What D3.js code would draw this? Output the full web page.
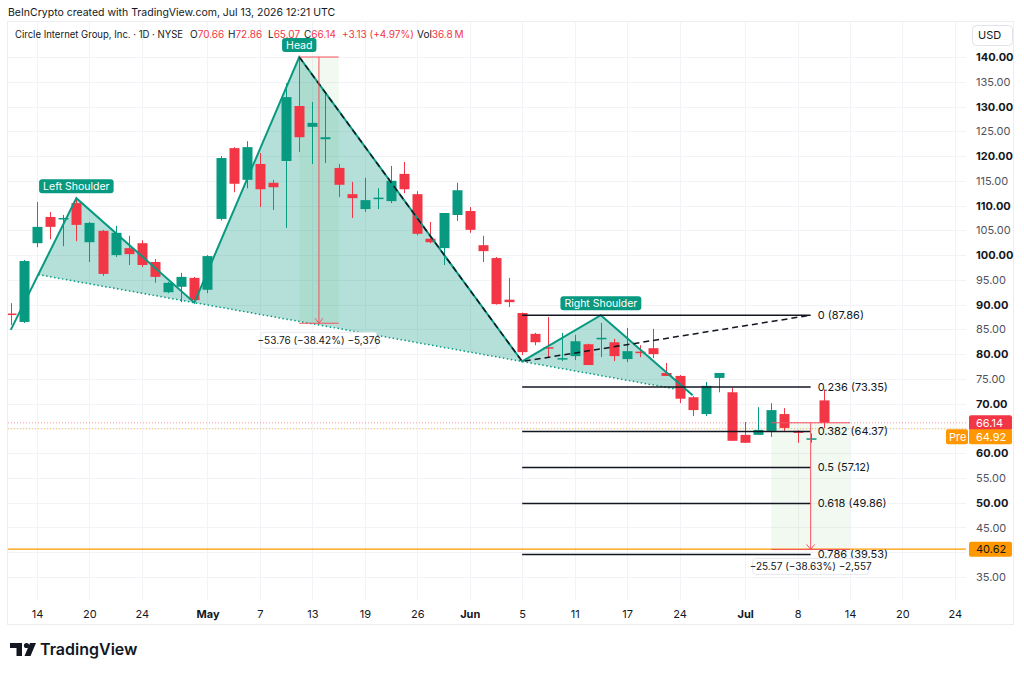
<!DOCTYPE html>
<html>
<head>
<meta charset="utf-8">
<script src="https://cdn.jsdelivr.net/npm/d3@7"></script>
<style>
body { margin: 0; background: #fff; }
svg text { font-family: Inter, "Noto Sans", sans-serif; }
</style>
</head>
<body>
<div id="chart"></div>
<script>
// daily candles
var dates = ["2026-04-10","2026-04-13","2026-04-14","2026-04-15","2026-04-16","2026-04-17","2026-04-20","2026-04-21","2026-04-22","2026-04-23","2026-04-24","2026-04-27","2026-04-28","2026-04-29","2026-04-30","2026-05-01","2026-05-04","2026-05-05","2026-05-06","2026-05-07","2026-05-08","2026-05-11","2026-05-12","2026-05-13","2026-05-14","2026-05-15","2026-05-18","2026-05-19","2026-05-20","2026-05-21","2026-05-22","2026-05-26","2026-05-27","2026-05-28","2026-05-29","2026-06-01","2026-06-02","2026-06-03","2026-06-04","2026-06-05","2026-06-08","2026-06-09","2026-06-10","2026-06-11","2026-06-12","2026-06-15","2026-06-16","2026-06-17","2026-06-18","2026-06-22","2026-06-23","2026-06-24","2026-06-25","2026-06-26","2026-06-29","2026-06-30","2026-07-01","2026-07-02","2026-07-06","2026-07-07","2026-07-08","2026-07-09","2026-07-10"];
var opens  = [88.2,86.5,102.4,107.7,107.2,110.5,102.6,104.9,100.0,101.4,102.4,98.6,92.5,93.6,95.4,93.0,107.3,121.6,115.2,118.4,114.6,119.0,130.1,125.9,123.4,117.6,112.3,109.3,111.3,110.9,116.4,112.3,103.3,101.4,108.1,108.9,102.0,99.4,91.0,88.3,84.1,81.4,79.0,79.6,82.0,83.0,82.4,79.0,80.5,81.2,76.2,75.6,71.3,67.9,75.2,72.3,63.7,63.7,64.5,67.9,64.5,62.9,70.66];
var highs  = [90.3,99.0,110.7,108.7,108.1,111.5,106.7,105.1,105.9,103.9,103.0,99.2,94.6,96.4,95.6,100.0,120.0,121.8,123.0,120.6,115.2,134.7,140.0,130.9,132.7,118.4,114.8,115.6,113.5,118.0,118.8,112.9,106.7,108.5,114.6,109.7,103.9,99.6,95.4,88.4,84.3,87.5,84.3,83.9,82.1,86.3,83.1,85.3,81.8,85.1,78.2,75.8,71.5,74.4,76.2,73.2,66.3,69.3,70.1,69.1,64.6,64.0,72.86];
var lows   = [85.9,86.3,101.6,103.2,101.8,102.8,98.6,95.8,99.6,98.0,97.6,94.4,92.3,90.5,90.4,92.3,107.0,112.7,113.5,109.7,109.1,105.5,120.8,118.4,118.6,111.7,107.5,108.7,109.3,110.5,112.5,104.0,102.4,98.0,106.9,104.5,98.6,90.0,89.5,79.8,81.8,79.2,78.6,78.8,77.8,79.4,78.6,78.4,79.4,79.2,75.6,70.1,67.5,67.5,72.3,62.5,62.1,63.7,63.3,64.5,62.1,62.1,65.07];
var closes = [88.0,98.8,105.7,105.7,107.5,106.1,106.5,96.2,104.5,100.2,98.0,95.6,94.4,95.6,90.9,99.8,119.6,114.4,121.8,113.3,113.7,131.9,123.8,126.7,123.8,114.2,111.5,111.1,111.6,115.0,113.3,104.3,102.6,108.5,113.1,105.1,100.8,90.1,90.5,80.4,82.4,81.2,79.2,82.6,77.8,83.3,79.6,80.6,80.3,80.0,75.6,71.0,68.7,73.6,76.2,62.5,62.1,64.7,68.7,65.1,64.1,63.01,66.14];

// head and shoulders points: start, left shoulder, neck 1, head, neck 2, right shoulder, end
var hsDates  = ["2026-04-10","2026-04-17","2026-04-30","2026-05-12","2026-06-05","2026-06-15","2026-06-25"];
var hsPrices = [84.9, 111.5, 90.4, 140.0, 78.52, 87.86, 71.7];

// fib levels
var fibRatios = ["0","0.236","0.382","0.5","0.618","0.786"];
var fibPrices = [87.86, 73.35, 64.37, 57.12, 49.86, 39.53];
var fibStart = "2026-06-05", fibEnd = "2026-07-09";
var trendDates  = ["2026-05-12","2026-06-05","2026-07-09"];
var trendPrices = [140.0, 78.52, 87.86];

// price range measurements
var measureDates  = [["2026-05-12","2026-05-15"],["2026-07-06","2026-07-14"]];
var measurePrices = [[140.0, 86.24],[66.14, 40.57]];
var measureLabels = ["\u221253.76 (\u221238.42%) \u22125,376", "\u221225.57 (\u221238.63%) \u22122,557"];

// axis ticks
var xTickDates  = ["2026-04-14","2026-04-20","2026-04-24","2026-05-01","2026-05-07","2026-05-13","2026-05-19","2026-05-26","2026-06-01","2026-06-05","2026-06-11","2026-06-17","2026-06-24","2026-07-01","2026-07-08","2026-07-14","2026-07-20","2026-07-24"];
var xTickLabels = ["14","20","24","May","7","13","19","26","Jun","5","11","17","24","Jul","8","14","20","24"];
var yTicks = d3.range(35, 141, 5);
var yTicksHidden = [40, 65];   // covered by the price tags

var lastPrice = 66.14, prePrice = 64.92, alertPrice = 40.62;

var width = 1024, height = 673;
var green = "#089981", red = "#f23645", orange = "#ff9800";

// trading calendar for the axis
var holidays = ["2026-05-25","2026-06-19","2026-07-03"];
var fmt = d3.timeFormat("%Y-%m-%d");
var dayIdx = {};
var k = 0;
d3.timeDay.range(new Date(2026, 3, 6), new Date(2026, 7, 1)).forEach(function(d) {
    var s = fmt(d);
    if (d.getDay() === 0 || d.getDay() === 6 || holidays.indexOf(s) >= 0) return;
    dayIdx[s] = k++;
});

var x = d3.scaleLinear()
    .domain([dayIdx["2026-04-14"], dayIdx["2026-07-14"]])
    .range([37, 850]);
function xd(s) { return x(dayIdx[s]); }

var y = d3.scaleLinear().domain([35, 140]).range([577, 57]);

var plotL = 8, plotR = 966, plotT = 21, plotB = 600;

var svg = d3.select("#chart").append("svg")
    .attr("width", width)
    .attr("height", height);

svg.append("defs").append("clipPath").attr("id", "plot")
    .append("rect").attr("x", plotL).attr("y", plotT)
    .attr("width", plotR - plotL).attr("height", plotB - plotT);

// header
svg.append("text")
    .attr("x", 8).attr("y", 16)
    .style("font-size", "10.5px").style("fill", "#131722")
    .text("BeInCrypto created with TradingView.com, Jul 13, 2026 12:21 UTC");

// frame
svg.append("rect")
    .attr("x", 7.5).attr("y", 21.5).attr("width", 1006).attr("height", 603)
    .attr("fill", "none").attr("stroke", "#eceef2");

// grid
svg.append("g").selectAll("line").data(yTicks).enter().append("line")
    .attr("x1", plotL).attr("x2", plotR)
    .attr("y1", function(d) { return Math.round(y(d)) + 0.5; })
    .attr("y2", function(d) { return Math.round(y(d)) + 0.5; })
    .attr("stroke", "#f2f3f6");
svg.append("g").selectAll("line").data(xTickDates).enter().append("line")
    .attr("y1", plotT).attr("y2", plotB)
    .attr("x1", function(d) { return Math.round(xd(d)) + 0.5; })
    .attr("x2", function(d) { return Math.round(xd(d)) + 0.5; })
    .attr("stroke", "#f2f3f6");

var plot = svg.append("g").attr("clip-path", "url(#plot)");

// head and shoulders
var P = hsDates.map(function(d, i) { return [xd(d), y(hsPrices[i])]; });
function intersect(a, b, c, d) {
    var t = ((c[0]-a[0])*(d[1]-c[1]) - (c[1]-a[1])*(d[0]-c[0])) /
            ((b[0]-a[0])*(d[1]-c[1]) - (b[1]-a[1])*(d[0]-c[0]));
    return [a[0] + t*(b[0]-a[0]), a[1] + t*(b[1]-a[1])];
}
var nL = intersect(P[0], P[1], P[2], P[4]);
var nR = intersect(P[5], P[6], P[2], P[4]);

plot.selectAll(".hsfill")
    .data([[nL, P[1], P[2]], [P[2], P[3], P[4]], [P[4], P[5], nR]])
    .enter().append("path")
    .attr("d", function(d) { return "M" + d.join("L") + "Z"; })
    .attr("fill", green).attr("fill-opacity", 0.3);

plot.append("path")
    .attr("d", "M" + [nL, P[2], P[4], nR].join("L"))
    .attr("fill", "none").attr("stroke", green)
    .attr("stroke-width", 1.5).attr("stroke-dasharray", "1.5,2.5");

// measurement boxes (background part)
measureDates.forEach(function(md, i) {
    var x1 = xd(md[0]), x2 = xd(md[1]);
    var y1 = y(measurePrices[i][0]), y2 = y(measurePrices[i][1]);
    plot.append("rect")
        .attr("x", x1).attr("y", y1).attr("width", x2 - x1).attr("height", y2 - y1)
        .attr("fill", "#4caf50").attr("fill-opacity", 0.08);
});

// current price lines
plot.append("line")
    .attr("x1", plotL).attr("x2", plotR)
    .attr("y1", y(lastPrice)).attr("y2", y(lastPrice))
    .attr("stroke", red).attr("stroke-opacity", 0.5).attr("stroke-dasharray", "1,2");
plot.append("line")
    .attr("x1", plotL).attr("x2", plotR)
    .attr("y1", y(prePrice)).attr("y2", y(prePrice))
    .attr("stroke", orange).attr("stroke-opacity", 0.6).attr("stroke-dasharray", "1,2");

// candles
var candles = dates.map(function(d, i) {
    return { d: d, o: opens[i], h: highs[i], l: lows[i], c: closes[i] };
});
var cg = plot.selectAll(".candle").data(candles).enter().append("g");
cg.append("line")
    .attr("x1", function(d) { return Math.round(xd(d.d)) + 0.5; })
    .attr("x2", function(d) { return Math.round(xd(d.d)) + 0.5; })
    .attr("y1", function(d) { return y(d.h); })
    .attr("y2", function(d) { return y(d.l); })
    .attr("stroke", function(d) { return d.c >= d.o ? green : red; });
cg.append("rect")
    .attr("x", function(d) { return Math.round(xd(d.d)) - 4.5; })
    .attr("width", 10)
    .attr("y", function(d) { return y(Math.max(d.o, d.c)); })
    .attr("height", function(d) { return Math.max(1.5, Math.abs(y(d.o) - y(d.c))); })
    .attr("fill", function(d) { return d.c >= d.o ? green : red; });

// pattern outline
plot.append("path")
    .attr("d", "M" + P.join("L"))
    .attr("fill", "none").attr("stroke", green).attr("stroke-width", 2);

// fib lines
var fx1 = xd(fibStart), fx2 = xd(fibEnd);
plot.selectAll(".fib").data(fibPrices).enter().append("line")
    .attr("x1", fx1).attr("x2", fx2)
    .attr("y1", function(d) { return y(d); })
    .attr("y2", function(d) { return y(d); })
    .attr("stroke", "#131722").attr("stroke-width", 1.5);
plot.selectAll(".fibl").data(fibPrices).enter().append("text")
    .attr("x", fx2 + 7)
    .attr("y", function(d) { return y(d); })
    .attr("dy", "0.35em")
    .style("font-size", "11px").style("fill", "#131722")
    .text(function(d, i) { return fibRatios[i] + " (" + d.toFixed(2) + ")"; });

// trend dashed line
plot.append("path")
    .attr("d", "M" + trendDates.map(function(d, i) { return [xd(d), y(trendPrices[i])]; }).join("L"))
    .attr("fill", "none").attr("stroke", "#131722")
    .attr("stroke-width", 1.5).attr("stroke-dasharray", "6,4");

// alert line
svg.append("line")
    .attr("x1", plotL).attr("x2", plotR)
    .attr("y1", y(alertPrice)).attr("y2", y(alertPrice))
    .attr("stroke", orange).attr("stroke-width", 1.2);

// measurement lines and labels
measureDates.forEach(function(md, i) {
    var x1 = xd(md[0]), x2 = xd(md[1]), xm = (x1 + x2) / 2;
    var y1 = y(measurePrices[i][0]), y2 = y(measurePrices[i][1]);
    var g = svg.append("g").attr("stroke", "#f7525f").attr("stroke-width", 1);
    g.append("line").attr("x1", x1).attr("x2", x2).attr("y1", y1).attr("y2", y1);
    g.append("line").attr("x1", x1).attr("x2", x2).attr("y1", y2).attr("y2", y2);
    g.append("line").attr("x1", xm).attr("x2", xm).attr("y1", y1).attr("y2", y2);
    g.append("path").attr("fill", "none")
        .attr("d", "M" + (xm - 4) + "," + (y2 - 5) + "L" + xm + "," + y2 + "L" + (xm + 4) + "," + (y2 - 5));

    var bw = 116, bh = 16;
    svg.append("rect")
        .attr("x", xm - bw / 2).attr("y", y2 + 9).attr("width", bw).attr("height", bh)
        .attr("rx", 3).attr("fill", "#fff")
        .attr("stroke", "#e0e3eb").attr("stroke-width", 0.8);
    svg.append("text")
        .attr("x", xm).attr("y", y2 + 9 + bh / 2).attr("dy", "0.35em")
        .style("text-anchor", "middle").style("font-size", "10px").style("fill", "#131722")
        .text(measureLabels[i]);
});

// pattern labels
var hsLabels = [[1, "Left Shoulder"], [3, "Head"], [5, "Right Shoulder"]];
hsLabels.forEach(function(l) {
    var p = P[l[0]];
    var t = svg.append("text")
        .attr("x", p[0]).attr("y", p[1] - 11.5).attr("dy", "0.35em")
        .style("text-anchor", "middle").style("font-size", "10.5px").style("fill", "#fff")
        .text(l[1]);
    var bb = t.node().getBBox();
    svg.insert("rect", function() { return t.node(); })
        .attr("x", bb.x - 4).attr("y", p[1] - 19).attr("width", bb.width + 8).attr("height", 14)
        .attr("rx", 3).attr("fill", green);
});

// legend, one text line with coloured parts
var legend = [
    [15, "Circle Internet Group, Inc. \u00b7 1D \u00b7 NYSE", "#131722", 168],
    [190, "O", "#131722"], [null, "70.66", red],
    [228, "H", "#131722"], [null, "72.86", red],
    [268, "L", "#131722"], [null, "65.07", red],
    [304, "C", "#131722"], [null, "66.14", red],
    [342, "+3.13 (+4.97%)", red],
    [417, "Vol", "#131722"], [null, "36.8\u2009M", red]
];
svg.append("text")
    .attr("y", 37.5)
    .style("font-size", "10px")
    .selectAll("tspan").data(legend).enter().append("tspan")
    .attr("x", function(d) { return d[0]; })
    .attr("textLength", function(d) { return d[3] || null; })
    .attr("lengthAdjust", "spacingAndGlyphs")
    .style("fill", function(d) { return d[2]; })
    .text(function(d) { return d[1]; });

// y axis
var yAxis = svg.append("g")
    .attr("transform", "translate(" + plotR + ",0)")
    .call(d3.axisRight(y)
        .tickValues(yTicks.filter(function(v) { return yTicksHidden.indexOf(v) < 0; }))
        .tickSize(0).tickPadding(10).tickFormat(d3.format(".2f")));
yAxis.select(".domain").remove();
yAxis.selectAll("text")
    .style("font-size", "11px")
    .style("font-family", "Inter, sans-serif")
    .style("font-weight", function(d) { return d % 10 === 0 ? "700" : "400"; })
    .style("fill", function(d) { return d % 10 === 0 ? "#131722" : "#50535e"; });

// x axis
var xAxis = svg.append("g")
    .attr("transform", "translate(0," + plotB + ")")
    .call(d3.axisBottom(x)
        .tickValues(xTickDates.map(function(d) { return dayIdx[d]; }))
        .tickSize(0).tickPadding(10)
        .tickFormat(function(d, i) { return xTickLabels[i]; }));
xAxis.select(".domain").remove();
xAxis.selectAll("text")
    .style("font-size", "11px")
    .style("font-family", "Inter, sans-serif")
    .style("font-weight", function(d, i) { return isNaN(+xTickLabels[i]) ? "700" : "400"; })
    .style("fill", "#131722");

// USD box
svg.append("rect").attr("x", 972.5).attr("y", 25.5).attr("width", 40).attr("height", 20)
    .attr("rx", 4).attr("fill", "#fff").attr("stroke", "#e0e3eb");
svg.append("text").attr("x", 978).attr("y", 35.5).attr("dy", "0.35em")
    .style("font-size", "11px").style("fill", "#131722").text("USD");

// price tags (yc = tag centre in pixels)
function tag(x0, w, yc, fill, txt, color) {
    svg.append("rect").attr("x", x0).attr("y", yc - 7.5).attr("width", w).attr("height", 15)
        .attr("rx", 2).attr("fill", fill);
    svg.append("text").attr("x", x0 + (w < 30 ? 3 : 7)).attr("y", yc).attr("dy", "0.35em")
        .style("font-size", "11px").style("fill", color).text(txt);
}
tag(969, 43, y(lastPrice), red, lastPrice.toFixed(2), "#fff");
tag(969, 43, y(lastPrice) + 14, orange, prePrice.toFixed(2), "#fff");
tag(946, 22, y(lastPrice) + 14, orange, "Pre", "#fff");
tag(969, 43, y(alertPrice), orange, alertPrice.toFixed(2), "#131722");

// TradingView logo
var logo = svg.append("g").attr("fill", "#131722");
logo.append("path").attr("d", "M10,643H22V656H16.5V648H10Z");
logo.append("circle").attr("cx", 26.5).attr("cy", 645.5).attr("r", 2.6);
logo.append("path").attr("d", "M30,643H36L30.5,656H24.5Z");
svg.append("text").attr("x", 40).attr("y", 655)
    .style("font-size", "16px").style("font-weight", "600").style("fill", "#131722")
    .text("TradingView");
</script>
</body>
</html>
